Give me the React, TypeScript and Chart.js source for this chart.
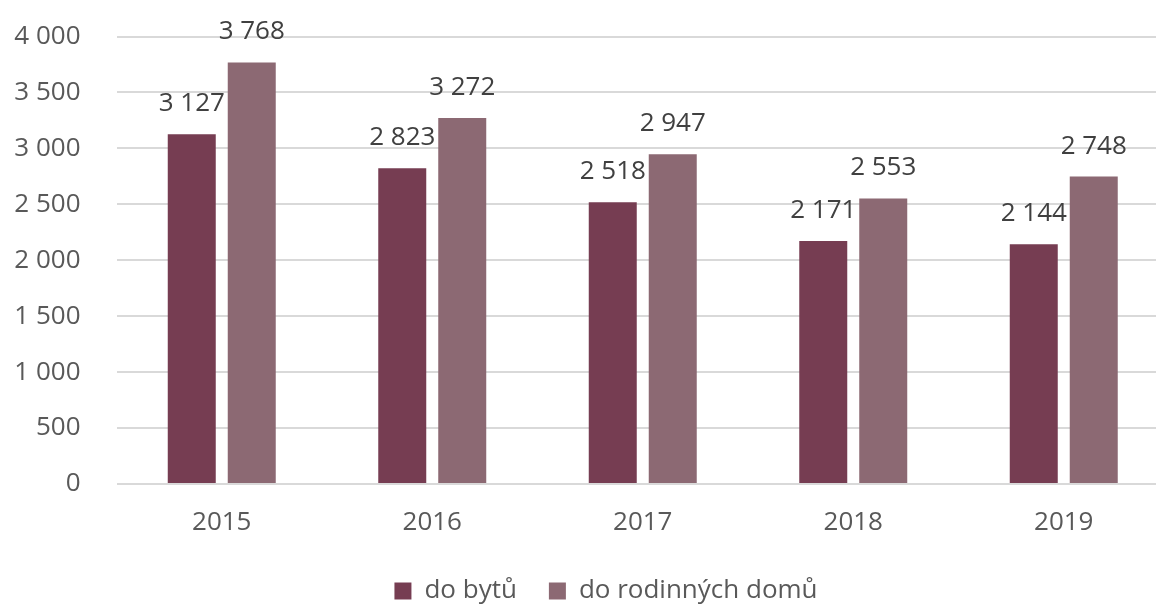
import React, { useEffect, useRef } from "react";
import { Chart, registerables } from "chart.js";

Chart.register(...registerables);

const categories = ["2015", "2016", "2017", "2018", "2019"];
const seriesNames = ["do bytů", "do rodinných domů"];
const flats = [3127, 2823, 2518, 2171, 2144];
const houses = [3768, 3272, 2947, 2553, 2748];
const seriesColors = ["#763D52", "#8C6973"];

const FONT = "'Open Sans', 'Noto Sans', sans-serif";
const fmt = (v: number) => {
  const s = Math.round(v).toString();
  return s.replace(/\B(?=(\d{3})+(?!\d))/g, " ");
};

const labelPlugin = {
  id: "barLabels",
  afterDatasetsDraw(chart: any) {
    const ctx = chart.ctx;
    ctx.save();
    ctx.font = `26px ${FONT}`;
    ctx.fillStyle = "#404040";
    ctx.textAlign = "center";
    ctx.textBaseline = "alphabetic";
    chart.data.datasets.forEach((ds: any, i: number) => {
      const meta = chart.getDatasetMeta(i);
      meta.data.forEach((bar: any, j: number) => {
        ctx.fillText(fmt(ds.data[j]), bar.x, bar.y - 23);
      });
    });
    ctx.restore();
  },
};

// shift the legend's horizontal span so it centres like the original
const legendShift = {
  id: "legendShift",
  afterLayout(chart: any) {
    if (chart.legend) {
      chart.legend.left = 43;
    }
  },
};

export default function App() {
  const ref = useRef<HTMLCanvasElement>(null);
  useEffect(() => {
    if (!ref.current) return;
    const chart = new Chart(ref.current, {
      type: "bar",
      data: {
        labels: categories,
        datasets: [
          { label: seriesNames[0], data: flats, backgroundColor: seriesColors[0] },
          { label: seriesNames[1], data: houses, backgroundColor: seriesColors[1] },
        ],
      },
      options: {
        animation: false,
        responsive: false,
        maintainAspectRatio: false,
        layout: { padding: { top: 36.5, right: 0, bottom: 0, left: 0 } },
        datasets: { bar: { categoryPercentage: 0.57, barPercentage: 0.8 } },
        plugins: {
          legend: {
            position: "bottom",
            labels: {
              boxWidth: 17,
              boxHeight: 17,
              padding: 32,
              color: "#595959",
              font: { family: FONT, size: 26 },
            },
          },
          tooltip: { enabled: false },
        },
        scales: {
          x: {
            grid: { display: false },
            border: { display: false },
            ticks: { color: "#595959", font: { family: FONT, size: 26 }, padding: 15 },
            afterFit: (s: any) => {
              s.height = 62;
              s.paddingLeft = 0;
              s.paddingRight = 0;
            },
          },
          y: {
            min: 0,
            max: 4000,
            ticks: {
              stepSize: 500,
              color: "#595959",
              font: { family: FONT, size: 26 },
              padding: 36,
              callback: (v: any) => fmt(Number(v)),
            },
            grid: { color: "#D9D9D9", lineWidth: 2, drawTicks: false },
            border: { display: false },
            afterFit: (s: any) => {
              s.width = 116.5;
              s.paddingTop = 0;
              s.paddingBottom = 0;
            },
          },
        },
      },
      plugins: [labelPlugin, legendShift],
    });
    return () => chart.destroy();
  }, []);
  return (
    <div style={{ position: "fixed", left: 0, top: 0, width: 1156, height: 604, overflow: "hidden", background: "#fff" }}>
      <canvas ref={ref} width={1169} height={614} style={{ display: "block" }} />
    </div>
  );
}
